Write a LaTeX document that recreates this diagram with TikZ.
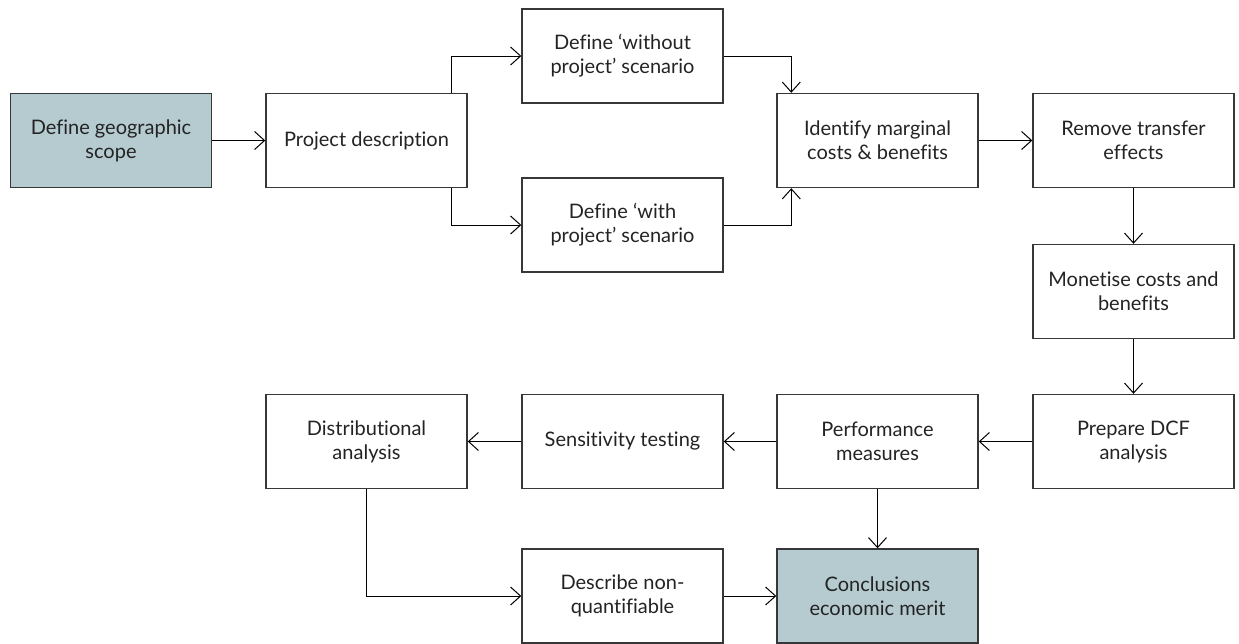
\documentclass[tikz,border=0pt]{standalone}
\usepackage{fontspec}
\setmainfont{Lato}[Ligatures=NoCommon]
\usetikzlibrary{arrows.meta}
\definecolor{boxline}{RGB}{55,55,55}
\definecolor{hl}{RGB}{181,203,208}
\definecolor{txt}{RGB}{35,35,35}
\tikzset{
  box/.style={draw=boxline, line width=1.4pt, rectangle, minimum width=201pt, minimum height=94pt, inner sep=0pt, align=center, text=txt, font=\fontsize{20}{24}\selectfont},
  hlbox/.style={box, fill=hl},
  arr/.style={draw=black, line width=1pt, -{Straight Barb[length=10pt,width=18pt,line width=1pt]}}
}
\begin{document}
\begin{tikzpicture}[x=1pt,y=-1pt]
\useasboundingbox (0,0) rectangle (1239,643);
\node[hlbox] (geo)  at (111,140.5)   {Define geographic\\scope};
\node[box]   (proj) at (366.5,140.5) {Project description};
\node[box]   (wo)   at (622.5,56)    {Define ‘without\\project’ scenario};
\node[box]   (wi)   at (622.5,225)   {Define ‘with\\project’ scenario};
\node[box]   (idm)  at (877.5,140.5) {Identify marginal\\costs \& benefits};
\node[box]   (rem)  at (1133.5,140.5){Remove transfer\\effects};
\node[box]   (mon)  at (1133.5,291.5){Monetise costs and\\benefits};
\node[box]   (dcf)  at (1133.5,441.5){Prepare DCF\\analysis};
\node[box]   (perf) at (877.5,441.5) {Performance\\measures};
\node[box]   (sens) at (622.5,441.5) {Sensitivity testing};
\node[box]   (dist) at (366.5,441.5) {Distributional\\analysis};
\node[box]   (desc) at (622.5,596)   {Describe non-\\quantifiable};
\node[hlbox] (conc) at (877.5,596)   {Conclusions\\economic merit};

\draw[arr] (geo) -- (proj);
\draw[arr] ([xshift=-16pt]proj.north east) |- (wo.west);
\draw[arr] ([xshift=-16pt]proj.south east) |- (wi.west);
\draw[arr] (wo.east) -| ([xshift=15pt]idm.north west);
\draw[arr] (wi.east) -| ([xshift=15pt]idm.south west);
\draw[arr] (idm) -- (rem);
\draw[arr] (rem) -- (mon);
\draw[arr] (mon) -- (dcf);
\draw[arr] (dcf) -- (perf);
\draw[arr] (perf) -- (sens);
\draw[arr] (sens) -- (dist);
\draw[arr] (perf) -- (conc);
\draw[arr] (dist.south) |- (desc.west);
\draw[arr] (desc) -- (conc);
\end{tikzpicture}
\end{document}
